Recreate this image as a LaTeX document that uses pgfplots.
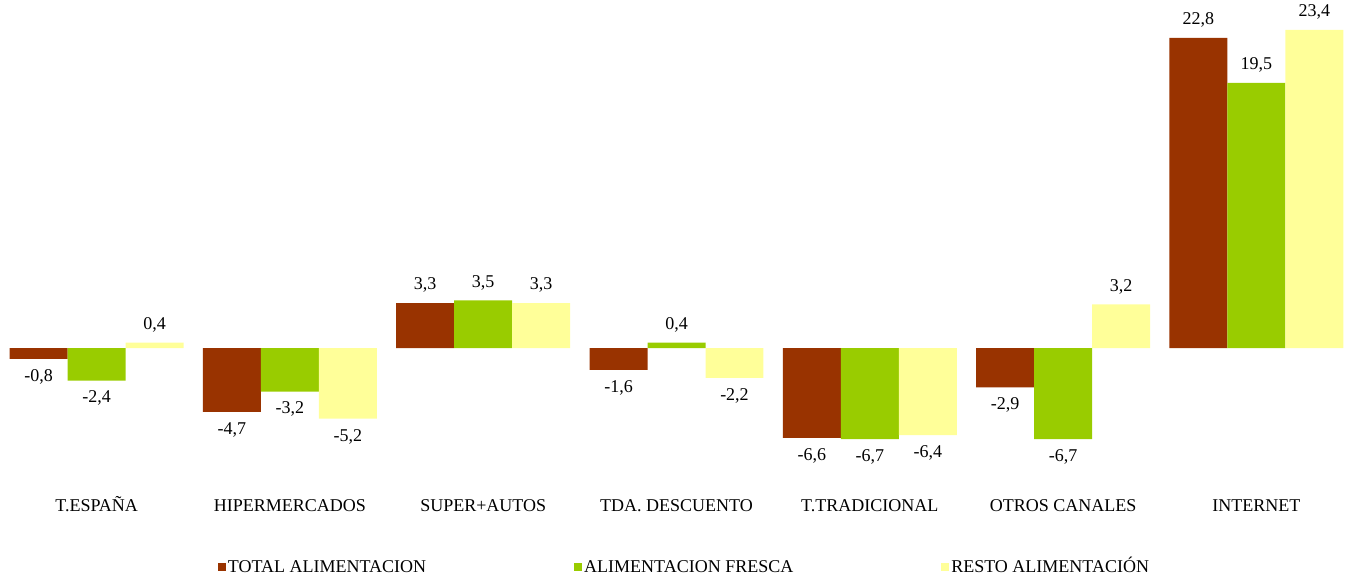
\documentclass[border=0pt]{standalone}
\usepackage{fontspec}
\setmainfont{Liberation Serif}
\usepackage{pgfplots}
\pgfplotsset{compat=1.18}

\definecolor{cTotal}{HTML}{993300}
\definecolor{cFresca}{HTML}{99CC00}
\definecolor{cResto}{HTML}{FFFF99}

\begin{document}
\begin{tikzpicture}[font=\fontsize{9}{11}\selectfont]
\begin{axis}[
    name=ax,
    scale only axis,
    width=676.5pt, height=241.4pt,
    xmin=-0.5, xmax=6.5, ymin=-10, ymax=25.5,
    ybar, bar width=0.3,
    clip=false,
    axis line style={draw=none},
    tick style={draw=none},
    ytick=\empty,
    xtick={0,...,6},
    xticklabels={T.ESPAÑA,HIPERMERCADOS,SUPER+AUTOS,TDA. DESCUENTO,T.TRADICIONAL,OTROS CANALES,INTERNET},
    xticklabel style={text height=7pt, text depth=2pt, yshift=1pt},
    /pgf/number format/assume math mode=true,
    /pgf/number format/.cd, use comma, fixed, fixed zerofill, precision=1, /pgfplots/.cd,
    nodes near coords,
    every node near coord/.append style={inner sep=5pt, text=black},
    legend columns=3,
    legend style={at={(0.5,0)}, anchor=center, yshift=-41.5pt, xshift=4pt,
        draw=none, fill=none,
        nodes={inner sep=1pt, text height=7pt, text depth=2pt},
        /tikz/every even column/.append style={column sep=73pt}},
    legend image code/.code={\fill[#1] (0pt,-2pt) rectangle (4pt,2pt);},
]
\addplot[fill=cTotal, draw=none, bar shift=-0.3] coordinates {
    (0,-0.8) (1,-4.7) (2,3.3) (3,-1.6) (4,-6.6) (5,-2.9) (6,22.8)};
\addplot[fill=cFresca, draw=none, bar shift=0] coordinates {
    (0,-2.4) (1,-3.2) (2,3.5) (3,0.4) (4,-6.7) (5,-6.7) (6,19.5)};
\addplot[fill=cResto, draw=none, bar shift=0.3] coordinates {
    (0,0.4) (1,-5.2) (2,3.3) (3,-2.2) (4,-6.4) (5,3.2) (6,23.4)};
\legend{TOTAL ALIMENTACION,ALIMENTACION FRESCA,RESTO ALIMENTACIÓN}
\end{axis}
\pgfresetboundingbox
\path ([yshift=-44.5pt]ax.south west) rectangle ([yshift=0.6pt]ax.north east);
\end{tikzpicture}
\end{document}
